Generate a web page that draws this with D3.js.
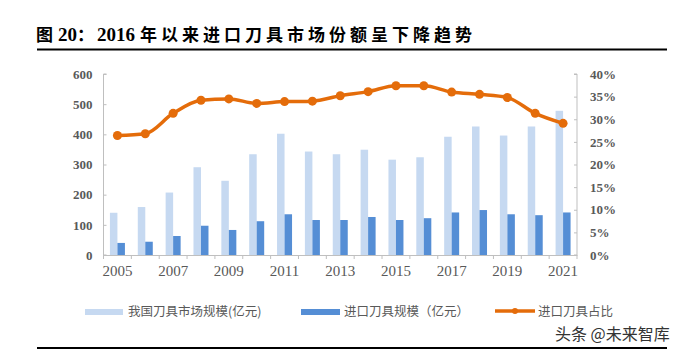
<!DOCTYPE html>
<html>
<head>
<meta charset="utf-8">
<script src="https://cdn.jsdelivr.net/npm/d3@7"></script>
<style>
  body { margin: 0; background: #fff; }
  svg { display: block; }
  .tick text { fill: #595959; }
</style>
</head>
<body>
<svg width="692" height="352"></svg>
<script>
// Data
const years = ["2005","2006","2007","2008","2009","2010","2011","2012","2013",
               "2014","2015","2016","2017","2018","2019","2020","2021"];
const marketSize = [140, 159, 207, 291, 246, 334, 402, 343, 334, 349, 316, 324, 392, 426, 396, 426, 478];
const importSize = [40, 44, 63, 97, 83, 112, 135, 116, 116, 126, 116, 122, 141, 149, 135, 132, 141];
const importShare = [0.264, 0.268, 0.313, 0.342, 0.345, 0.335, 0.339, 0.340, 0.352,
                     0.361, 0.374, 0.374, 0.360, 0.355, 0.348, 0.313, 0.291];
const leftTicks = [0, 100, 200, 300, 400, 500, 600];
const rightTicks = [0, 0.05, 0.10, 0.15, 0.20, 0.25, 0.30, 0.35, 0.40];
const xLabels = ["2005","2007","2009","2011","2013","2015","2017","2019","2021"];

const svg = d3.select("svg");
const serif = "'Liberation Serif', 'Times New Roman', serif";
const cjk = "'Noto Sans CJK SC', sans-serif";

// Title and rules
const title = svg.append("text")
    .attr("y", 41)
    .style("font-weight", "bold")
    .style("fill", "#000");
title.append("tspan").attr("x", 36)
    .style("font-family", cjk).style("font-size", "17px").text("图");
title.append("tspan").attr("x", 58)
    .style("font-family", serif).style("font-size", "19px").text("20");
title.append("tspan")
    .style("font-family", cjk).style("font-size", "17px").text("：");
title.append("tspan").attr("x", 97)
    .style("font-family", serif).style("font-size", "19px").text("2016");
title.append("tspan").attr("x", 140)
    .style("font-family", cjk).style("font-size", "17px").style("letter-spacing", "4px")
    .text("年以来进口刀具市场份额呈下降趋势");

svg.append("line").attr("x1", 37).attr("x2", 667).attr("y1", 49.5).attr("y2", 49.5)
    .attr("stroke", "#000").attr("stroke-width", 2);
svg.append("line").attr("x1", 37).attr("x2", 667).attr("y1", 348).attr("y2", 348)
    .attr("stroke", "#000").attr("stroke-width", 2);

// Scales
const x = d3.scaleBand().domain(years).range([103.5, 577]);
const x1 = d3.scaleBand().domain(["market", "import"])
    .range([0, x.bandwidth()]).paddingOuter(0.857);
const yL = d3.scaleLinear().domain([0, 600]).range([255, 74]);
const yR = d3.scaleLinear().domain([0, 0.4]).range([255, 74]);

// Bars
svg.append("g").selectAll("rect")
    .data(marketSize)
    .join("rect")
    .attr("x", (d, i) => x(years[i]) + x1("market"))
    .attr("y", d => yL(d))
    .attr("width", x1.bandwidth())
    .attr("height", d => yL(0) - yL(d))
    .attr("fill", "#C6D9F1");
svg.append("g").selectAll("rect")
    .data(importSize)
    .join("rect")
    .attr("x", (d, i) => x(years[i]) + x1("import"))
    .attr("y", d => yL(d))
    .attr("width", x1.bandwidth())
    .attr("height", d => yL(0) - yL(d))
    .attr("fill", "#558ED5");

// Axes
const axisColor = "#BFBFBF";
const gl = svg.append("g")
    .attr("transform", "translate(103.5,0)")
    .call(d3.axisRight(yL).tickValues(leftTicks).tickSize(3).tickFormat(d3.format("d")));
gl.selectAll(".tick text")
    .attr("x", -11).attr("text-anchor", "end")
    .style("font-family", serif).style("font-size", "13px").style("font-weight", "bold");

const gr = svg.append("g")
    .attr("transform", "translate(577,0)")
    .call(d3.axisLeft(yR).tickValues(rightTicks).tickSize(3).tickFormat(d3.format(".0%")));
gr.selectAll(".tick text")
    .attr("x", 13).attr("text-anchor", "start")
    .style("font-family", serif).style("font-size", "13px").style("font-weight", "bold");

const gx = svg.append("g")
    .attr("transform", "translate(0,255)")
    .call(d3.axisBottom(x).tickSize(0).tickFormat(d => xLabels.includes(d) ? d : ""));
gx.selectAll(".tick text")
    .attr("dy", "0.71em").attr("y", 10)
    .style("font-family", serif).style("font-size", "15px");
// tick marks between categories
gx.selectAll(".sep")
    .data(years.concat(["end"]))
    .join("line")
    .attr("class", "sep")
    .attr("x1", (d, i) => i < years.length ? x(d) : x.range()[1])
    .attr("x2", (d, i) => i < years.length ? x(d) : x.range()[1])
    .attr("y1", 0).attr("y2", 4)
    .attr("stroke", axisColor);

[gl, gr, gx].forEach(g => {
  g.selectAll(".domain, .tick line").attr("stroke", axisColor);
});
gl.select(".domain").attr("d", "M3,74H0V255H3");
gr.select(".domain").attr("d", "M-3,74H0V255H-3");

// Share line
const line = d3.line()
    .x((d, i) => x(years[i]) + x.bandwidth() / 2)
    .y(d => yR(d))
    .curve(d3.curveMonotoneX);
svg.append("path")
    .datum(importShare)
    .attr("d", line)
    .attr("fill", "none")
    .attr("stroke", "#E46C0A")
    .attr("stroke-width", 3.5);
svg.append("g").selectAll("circle")
    .data(importShare)
    .join("circle")
    .attr("cx", (d, i) => x(years[i]) + x.bandwidth() / 2)
    .attr("cy", d => yR(d))
    .attr("r", 4.5)
    .attr("fill", "#E46C0A");

// Legend
const legend = svg.append("g")
    .style("font-family", cjk).style("font-size", "12.5px").style("fill", "#595959");
legend.append("rect").attr("x", 85).attr("y", 309).attr("width", 38).attr("height", 6).attr("fill", "#C6D9F1");
legend.append("text").attr("x", 128).attr("y", 316).text("我国刀具市场规模(亿元)").style("fill", "#595959");
legend.append("rect").attr("x", 301).attr("y", 309).attr("width", 39).attr("height", 6).attr("fill", "#558ED5");
legend.append("text").attr("x", 344).attr("y", 316).text("进口刀具规模（亿元）").style("fill", "#595959");
legend.append("line").attr("x1", 495).attr("x2", 535).attr("y1", 311).attr("y2", 311)
    .attr("stroke", "#E46C0A").attr("stroke-width", 3.5);
legend.append("circle").attr("cx", 515).attr("cy", 311).attr("r", 3).attr("fill", "#E46C0A");
legend.append("text").attr("x", 538).attr("y", 316).text("进口刀具占比").style("fill", "#595959");

// Watermark
svg.append("text")
    .attr("x", 555).attr("y", 340)
    .style("font-family", cjk).style("font-size", "16px")
    .style("fill", "#333").style("stroke", "#fff").style("stroke-width", 2.5)
    .style("paint-order", "stroke")
    .text("头条 @未来智库");
</script>
</body>
</html>
